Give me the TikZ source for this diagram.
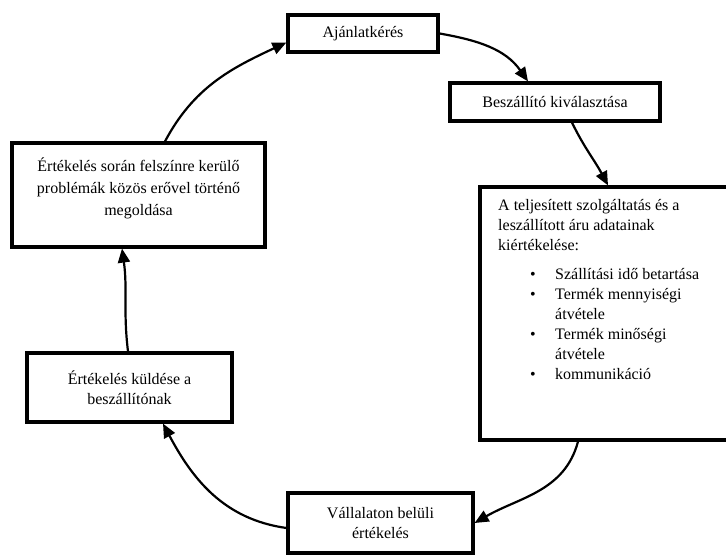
\documentclass[tikz,border=0pt]{standalone}
\usepackage{fontspec}
\setmainfont{Liberation Serif}
\usetikzlibrary{arrows.meta,calc}
\begin{document}
\begin{tikzpicture}[x=1pt,y=1pt,
  box/.style={draw,line width=3.2pt,fill=white,inner sep=0pt,align=center,font=\fontsize{16}{20}\selectfont},
  txt/.style={inner sep=0pt,align=center,font=\fontsize{16}{20}\selectfont},
  arr/.style={line width=2.2pt,-{Triangle[length=14pt,width=12pt]}}]
\useasboundingbox (0,0) rectangle (726,555);
\clip (0,0) rectangle (726,555);
\node[box,minimum width=150pt,minimum height=37pt] (b1) at (363,521.5) {Ajánlatkérés};
\node[box,minimum width=210pt,minimum height=38pt] (b2) at (555,453) {Beszállító kiválasztása};
\node[box,minimum width=253pt,minimum height=104pt] (b3) at (138.5,360) {};
\node[txt,font=\fontsize{16}{22}\selectfont] (t3) at (138.5,367) {Értékelés során felszínre kerülő\\problémák közös erővel történő\\megoldása};
\node[box,minimum width=260pt,minimum height=253pt] (b4) at (610,241.5) {};
\node[txt,anchor=north west,align=left] (t4) at (498,356) {A teljesített szolgáltatás és a\\leszállított áru adatainak\\kiértékelése:};
\node[txt,anchor=north west,align=left] (t4b) at (530,287) {\makebox[25pt][l]{•}Szállítási idő betartása\\\makebox[25pt][l]{•}Termék mennyiségi\\\hspace*{25pt}átvétele\\\makebox[25pt][l]{•}Termék minőségi\\\hspace*{25pt}átvétele\\\makebox[25pt][l]{•}kommunikáció};
\node[box,minimum width=205pt,minimum height=69pt] (b5) at (129.5,167.5) {Értékelés küldése a\\beszállítónak};
\node[box,minimum width=185pt,minimum height=60pt] (b6) at (380.5,32) {Vállalaton belüli\\értékelés};
\draw[arr] (b1.east) to[out=-10,in=125] ([xshift=-27pt]b2.north);
\draw[arr] ([xshift=17pt]b2.south) to[out=-64,in=118] ([xshift=-2pt]b4.north);
\draw[arr] ([xshift=-32pt]b4.south) to[out=-105,in=30] (b6.east);
\draw[arr] ([yshift=-5pt]b6.west) to[out=172,in=-62] ([xshift=33.5pt]b5.south);
\draw[arr] ([xshift=-1.5pt]b5.north) to[out=97,in=-82] ([xshift=-16.5pt]b3.south);
\draw[arr] ([xshift=26.5pt]b3.north) to[out=62,in=-155] ([yshift=-9pt]b1.west);
\end{tikzpicture}
\end{document}
